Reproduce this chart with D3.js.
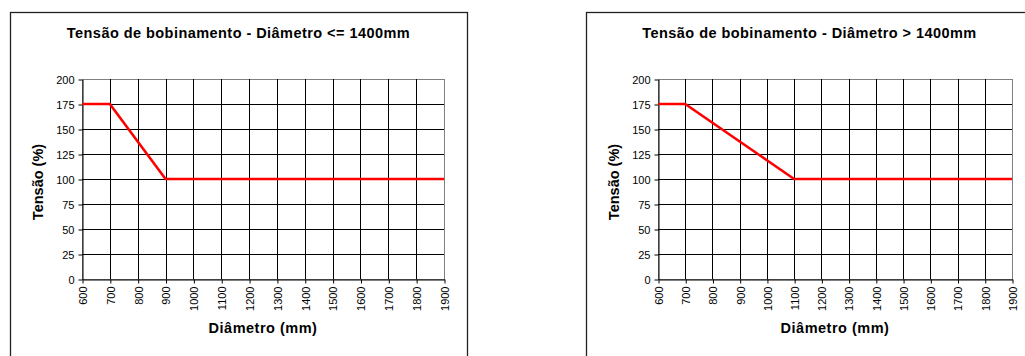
<!DOCTYPE html>
<html>
<head>
<meta charset="utf-8">
<script src="https://cdn.jsdelivr.net/npm/d3@7"></script>
<style>
  html, body { margin: 0; padding: 0; background: #fff; }
  svg { display: block; }
  text { font-family: "Liberation Sans", Arial, sans-serif; fill: #000; }
</style>
</head>
<body>
<svg id="chart" width="1025" height="356"></svg>
<script>
// ---- Data ----
const categories = [600, 700, 800, 900, 1000, 1100, 1200, 1300, 1400, 1500, 1600, 1700, 1800, 1900];
const tensionLe1400 = [175, 175, 137.5, 100, 100, 100, 100, 100, 100, 100, 100, 100, 100, 100];
const tensionGt1400 = [175, 175, 156.25, 137.5, 118.75, 100, 100, 100, 100, 100, 100, 100, 100, 100];
const yTicks = [0, 25, 50, 75, 100, 125, 150, 175, 200];
const titles = ["Tensão de bobinamento - Diâmetro <= 1400mm", "Tensão de bobinamento - Diâmetro > 1400mm"];
const xAxisTitle = "Diâmetro (mm)";
const yAxisTitle = "Tensão (%)";

// ---- Layout ----
const panels = [
  { frame: [10, 12, 457], plot: [82, 444, 79, 279], series: tensionLe1400, title: titles[0], yTitleX: 38 },
  { frame: [586, 12, 447], plot: [658, 1012, 79, 279], series: tensionGt1400, title: titles[1], yTitleX: 614 }
];

const svg = d3.select("#chart");

panels.forEach(p => {
  const [fx, fy, fw] = p.frame;
  const [x0, x1, yTop, yBot] = p.plot;
  const g = svg.append("g");

  // outer frame
  g.append("rect")
    .attr("x", fx + 0.5).attr("y", fy + 0.5)
    .attr("width", fw).attr("height", 400)
    .attr("fill", "#fff").attr("stroke", "#222").attr("stroke-width", 1.3);

  const x = d3.scalePoint().domain(categories).range([x0, x1]).padding(0);
  const y = d3.scaleLinear().domain([0, 200]).range([yBot, yTop]);

  // plot border (gray)
  g.append("rect")
    .attr("x", x0 + 0.5).attr("y", yTop + 0.5)
    .attr("width", x1 - x0).attr("height", yBot - yTop)
    .attr("fill", "none").attr("stroke", "#808080").attr("stroke-width", 1);

  // horizontal gridlines
  g.append("g").selectAll("line")
    .data(yTicks.filter(v => v > 0 && v < 200))
    .join("line")
    .attr("x1", x0).attr("x2", x1)
    .attr("y1", d => Math.round(y(d)) + 0.5).attr("y2", d => Math.round(y(d)) + 0.5)
    .attr("stroke", "#000").attr("stroke-width", 1);

  // vertical gridlines
  g.append("g").selectAll("line")
    .data(categories.slice(1, -1))
    .join("line")
    .attr("x1", d => Math.round(x(d)) + 0.5).attr("x2", d => Math.round(x(d)) + 0.5)
    .attr("y1", yTop).attr("y2", yBot)
    .attr("stroke", "#000").attr("stroke-width", 1);

  // y axis
  const yAxis = d3.axisLeft(y).tickValues(yTicks).tickSize(4).tickPadding(4).tickSizeOuter(0);
  const ya = g.append("g").attr("transform", `translate(${x0 + 0.5},0.5)`).call(yAxis);
  ya.select(".domain").attr("stroke", "#000");
  ya.selectAll(".tick line").attr("stroke", "#000");
  ya.selectAll(".tick text").attr("font-size", "11px").attr("font-family", "Liberation Sans, Arial, sans-serif").attr("fill", "#000");

  // x axis
  const xAxis = d3.axisBottom(x).tickSize(4).tickSizeOuter(0);
  const xa = g.append("g").attr("transform", `translate(0.5,${yBot + 0.5})`).call(xAxis);
  xa.select(".domain").attr("stroke", "#000");
  xa.selectAll(".tick line").attr("stroke", "#000");
  xa.selectAll(".tick text")
    .attr("font-size", "11px").attr("font-family", "Liberation Sans, Arial, sans-serif").attr("fill", "#000")
    .attr("transform", "rotate(-90)")
    .attr("text-anchor", "end")
    .attr("x", -7).attr("y", 0).attr("dy", "0.35em");

  // line
  const line = d3.line().x((d, i) => x(categories[i])).y(d => y(d));
  g.append("path")
    .datum(p.series)
    .attr("d", line)
    .attr("fill", "none").attr("stroke", "#ff0000").attr("stroke-width", 2.6)
    .attr("stroke-linejoin", "miter");

  // titles
  g.append("text")
    .attr("x", fx + fw / 2).attr("y", 38)
    .attr("text-anchor", "middle")
    .attr("font-size", "14.5px").attr("font-weight", "bold")
    .attr("letter-spacing", "0.45px")
    .text(p.title);

  g.append("text")
    .attr("x", (x0 + x1) / 2).attr("y", 333)
    .attr("text-anchor", "middle")
    .attr("font-size", "14.5px").attr("font-weight", "bold")
    .attr("letter-spacing", "0.5px")
    .text(xAxisTitle);

  g.append("text")
    .attr("transform", `translate(${p.yTitleX + 5},182) rotate(-90)`)
    .attr("text-anchor", "middle")
    .attr("font-size", "14.5px").attr("font-weight", "bold")
    .text(yAxisTitle);
});
</script>
</body>
</html>
